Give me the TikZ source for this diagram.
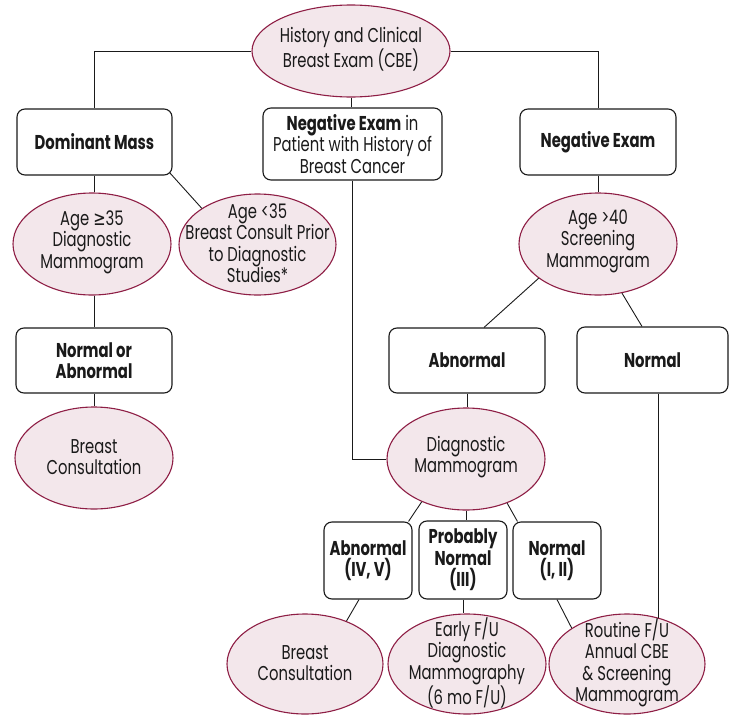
\documentclass[tikz,border=0pt]{standalone}
\usepackage{fontspec}
\setmainfont{Poppins}[FakeStretch=0.74]
\newfontfamily\symfont{DejaVu Sans}[FakeStretch=0.74]
\usetikzlibrary{shapes.geometric,calc}
\definecolor{ellfill}{HTML}{F3E7EB}
\definecolor{elldraw}{HTML}{8E1E45}
\definecolor{ink}{HTML}{1A1A1A}
\begin{document}
\begin{tikzpicture}[x=1pt,y=-1pt,
  ell/.style={ellipse, draw=elldraw, fill=ellfill, line width=1.1pt, inner sep=0pt,
    minimum width=158pt, minimum height=102pt},
  etxt/.style={align=center, inner sep=0pt, text=ink, font=\fontsize{20}{21.5}\selectfont},
  box/.style={rectangle, rounded corners=8pt, draw=ink, line width=1.1pt, fill=white,
    inner sep=0pt, align=center, text=ink, font=\fontsize{20}{21.5}\selectfont},
  conn/.style={draw=ink, line width=0.9pt}]
\useasboundingbox (0,0) rectangle (729,715);

% top
\node[ell, minimum width=198pt, minimum height=92pt] (top) at (351,51) {};
\node[etxt] (toptxt) at (351,49) {History and Clinical\\Breast Exam (CBE)};

% second row boxes
\node[box, minimum width=155pt, minimum height=66pt] (dm) at (94.5,142) {\bfseries Dominant Mass};
\node[box, minimum width=179pt, minimum height=72pt] (nh) at (352.5,144)
  {\textbf{Negative Exam} in\\Patient with History of\\Breast Cancer};
\node[box, minimum width=156pt, minimum height=66pt] (ne) at (598,142) {\bfseries Negative Exam};

% third row ellipses
\node[ell] (a35) at (92,244) {};
\node[etxt] at (92,242) {Age {\symfont ≥}35\\Diagnostic\\Mammogram};
\node[ell, minimum width=157pt, minimum height=101pt] (l35) at (257.5,244.5) {};
\node[etxt] at (257.5,243) {Age <35\\Breast Consult Prior\\to Diagnostic\\Studies*};
\node[ell] (a40) at (598,244) {};
\node[etxt] at (598,241) {Age >40\\Screening\\Mammogram};

% fourth row boxes
\node[box, minimum width=156pt, minimum height=65pt] (na) at (94,360.5) {\bfseries Normal or\\\bfseries Abnormal};
\node[box, minimum width=156pt, minimum height=65pt] (ab) at (467,360.5) {\bfseries Abnormal};
\node[box, minimum width=151pt, minimum height=66pt] (nm) at (652.5,360) {\bfseries Normal};

% fifth row ellipses
\node[ell] (bc1) at (94,458) {};
\node[etxt] at (94,457) {Breast\\Consultation};
\node[ell] (dg) at (466,459) {};
\node[etxt] at (466,457) {Diagnostic\\Mammogram};

% sixth row boxes
\node[box, minimum width=88pt, minimum height=77pt] (b45) at (368,560.5) {\bfseries Abnormal\\\bfseries (IV, V)};
\node[box, minimum width=88pt, minimum height=78pt] (b3) at (463,560) {\bfseries Probably\\\bfseries Normal\\\bfseries (III)};
\node[box, minimum width=88pt, minimum height=77pt] (b12) at (557,560.5) {\bfseries Normal\\\bfseries (I, II)};

% bottom ellipses
\node[ell, minimum width=156pt, minimum height=100pt] (bc2) at (305,664) {};
\node[etxt] at (305,663) {Breast\\Consultation};
\node[ell, minimum width=158pt, minimum height=100pt] (ef) at (467,664) {};
\node[etxt] at (467,663) {Early F/U\\Diagnostic\\Mammography\\(6 mo F/U)};
\node[ell, minimum width=156pt, minimum height=100pt] (rf) at (627,664) {};
\node[etxt] at (627,663) {Routine F/U\\Annual CBE\\\& Screening\\Mammogram};

% connectors
\draw[conn] (top.west) -| (dm.north);
\draw[conn] (top.east) -| (ne.north);
\draw[conn] (top.south) -- (top.south |- nh.north);
\draw[conn] (dm.south) -- (dm.south |- a35.north);
\draw[conn] ($(dm.south east)+(-3,-3)$) -- (l35.147);
\draw[conn] (na.north |- a35.south) -- (na.north);
\draw[conn] (na.south) -- (bc1.north);
\draw[conn] (ne.south) -- (ne.south |- a40.north);
\draw[conn] (a40.210) -- ($(ab.north)+(17,0)$);
\draw[conn] (a40.296) -- ($(nm.north)+(-10.5,0)$);
\draw[conn] (nh.south) |- (dg.west);
\draw[conn] (ab.south) -- (ab.south |- dg.north);
\coordinate (nx) at ($(nm.south)+(5.5,0)$);
\draw[conn] (nx) -- (nx |- rf.56);
\draw[conn] (dg.224) -- ($(b45.north east)+(-4,0)$);
\draw[conn] (dg.south) -- (dg.south |- b3.north);
\draw[conn] (dg.313) -- ($(b12.north west)+(5,0)$);
\draw[conn] ($(b45.south)+(-9,0)$) -- (bc2.46);
\draw[conn] (b3.south) -- (b3.south |- ef.north);
\draw[conn] (b12.south) -- (rf.147);
\end{tikzpicture}
\end{document}
